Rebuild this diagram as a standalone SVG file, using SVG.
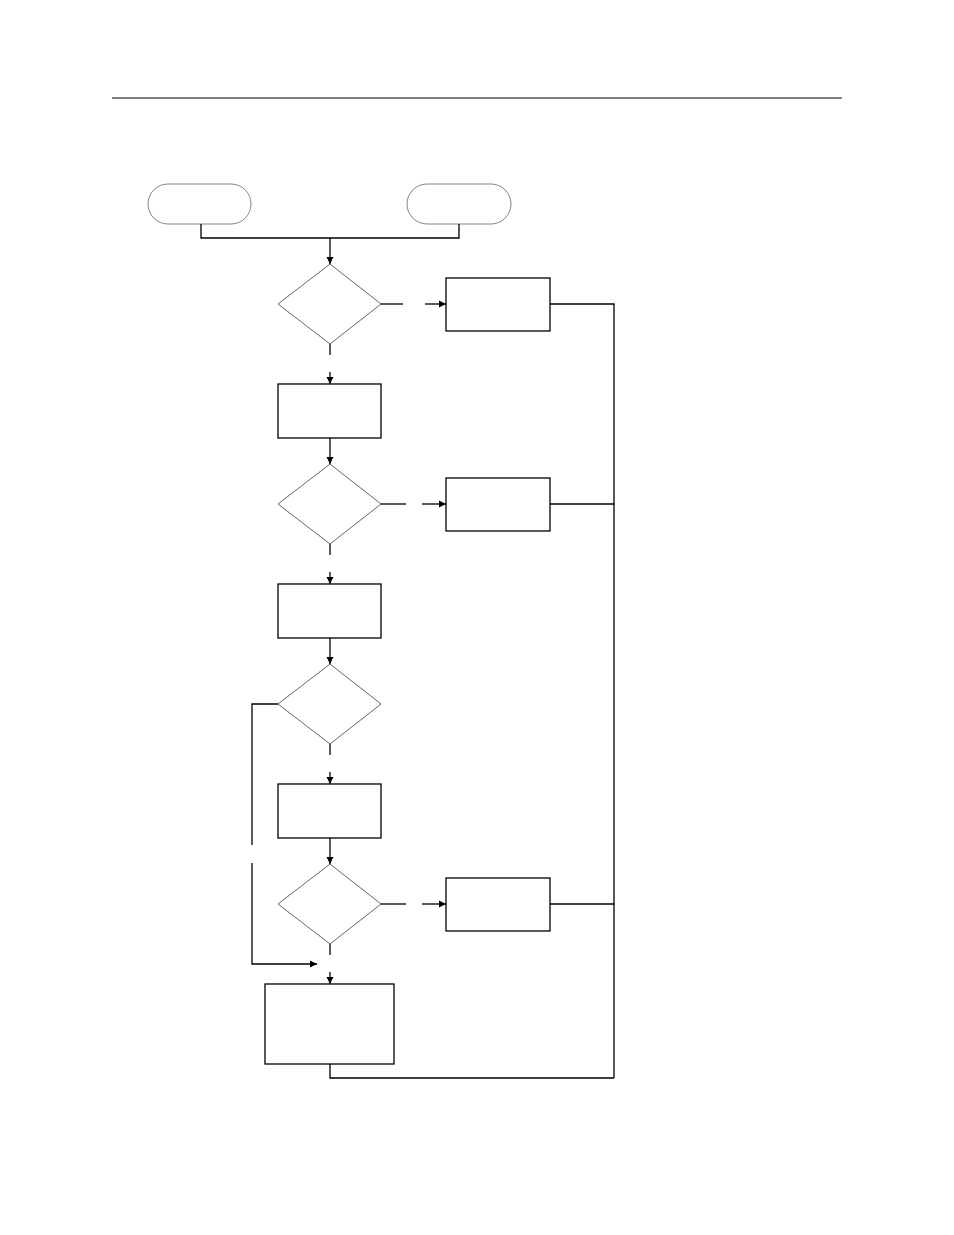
<svg xmlns="http://www.w3.org/2000/svg" width="954" height="1235" viewBox="0 0 954 1235">
<style>
.n{fill:#fff;stroke:#000;stroke-width:1.3}
.d{fill:#fff;stroke:#555;stroke-width:0.9}
.t{fill:#fff;stroke:#777;stroke-width:0.9}
.c{fill:none;stroke:#000;stroke-width:1.3}
</style>
<defs><marker id="a" markerWidth="8" markerHeight="8" refX="7" refY="4" orient="auto" markerUnits="userSpaceOnUse"><path d="M0,0.5L7,4L0,7.5z" fill="#000"/></marker></defs>
<rect width="954" height="1235" fill="#fff"/>
<line x1="112" y1="98" x2="842" y2="98" stroke="#000" stroke-width="1"/>
<g id="start1"><rect class="t" x="148" y="184" width="103" height="40" rx="20"/></g>
<g id="start2"><rect class="t" x="407" y="184" width="104" height="40" rx="20"/></g>
<g id="dec1"><path class="d" d="M330,264L381,304L330,344L278,304z"/></g>
<g id="side1"><rect class="n" x="446" y="278" width="104" height="53"/></g>
<g id="boxA"><rect class="n" x="278" y="384" width="103" height="54"/></g>
<g id="dec2"><path class="d" d="M330,464L381,504L330,544L278,504z"/></g>
<g id="side2"><rect class="n" x="446" y="478" width="104" height="53"/></g>
<g id="boxB"><rect class="n" x="278" y="584" width="103" height="54"/></g>
<g id="dec3"><path class="d" d="M330,664L381,704L330,744L278,704z"/></g>
<g id="boxC"><rect class="n" x="278" y="784" width="103" height="54"/></g>
<g id="dec4"><path class="d" d="M330,864L381,904L330,944L278,904z"/></g>
<g id="side3"><rect class="n" x="446" y="878" width="104" height="53"/></g>
<g id="final"><rect class="n" x="265" y="984" width="129" height="80"/></g>
<g id="connectors">
<path class="c" d="M201,224V238H459V224"/>
<path class="c" d="M330,238V264" marker-end="url(#a)"/>
<path class="c" d="M381,304H403"/>
<path class="c" d="M425,304H446" marker-end="url(#a)"/>
<path class="c" d="M550,304H614V1078"/>
<path class="c" d="M330,344V355"/>
<path class="c" d="M330,372V384" marker-end="url(#a)"/>
<path class="c" d="M330,438V464" marker-end="url(#a)"/>
<path class="c" d="M381,504H406"/>
<path class="c" d="M422,504H446" marker-end="url(#a)"/>
<path class="c" d="M550,504H614"/>
<path class="c" d="M330,544V555"/>
<path class="c" d="M330,572V584" marker-end="url(#a)"/>
<path class="c" d="M330,638V664" marker-end="url(#a)"/>
<path class="c" d="M278,704H252V845"/>
<path class="c" d="M252,863V964H317" marker-end="url(#a)"/>
<path class="c" d="M330,744V755"/>
<path class="c" d="M330,772V784" marker-end="url(#a)"/>
<path class="c" d="M330,838V864" marker-end="url(#a)"/>
<path class="c" d="M381,904H406"/>
<path class="c" d="M422,904H446" marker-end="url(#a)"/>
<path class="c" d="M550,904H614"/>
<path class="c" d="M330,944V955"/>
<path class="c" d="M330,972V984" marker-end="url(#a)"/>
<path class="c" d="M330,1064V1078H614"/>
</g>
</svg>
